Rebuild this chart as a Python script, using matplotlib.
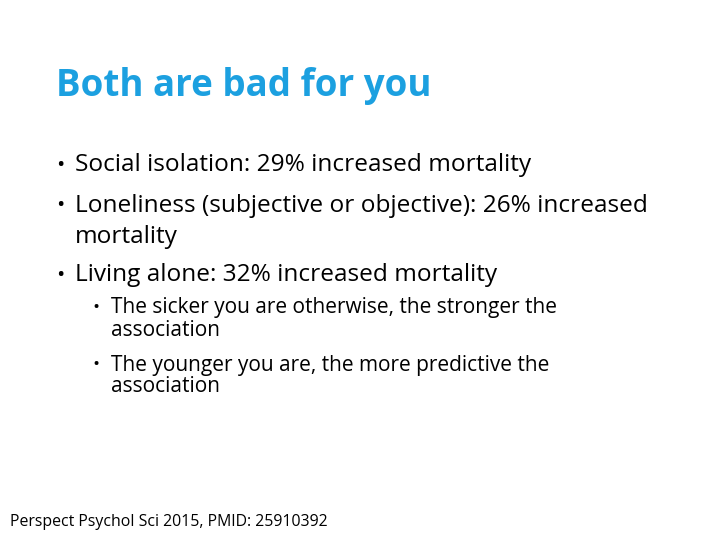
import matplotlib
matplotlib.use("Agg")
import matplotlib.pyplot as plt

title = "Both are bad for you"
# (level, lines, y of first line in px)
bullets = [
    (1, ["Social isolation: 29% increased mortality"], 165),
    (1, ["Loneliness (subjective or objective): 26% increased", "mortality"], 206),
    (1, ["Living alone: 32% increased mortality"], 275),
    (2, ["The sicker you are otherwise, the stronger the", "association"], 308),
    (2, ["The younger you are, the more predictive the", "association"], 365),
]
footer = "Perspect Psychol Sci 2015, PMID: 25910392"

W, H = 720, 540
fig = plt.figure(figsize=(7.2, 5.4), dpi=100)
fig.patch.set_facecolor("white")
font = "Open Sans"

def put(x, y, s, **kw):
    fig.text(x / W, 1 - y / H, s, va="center", ha="left", family=font, **kw)

put(56, 86, title, fontsize=26.5, fontweight="bold", color="#1ca0e0")

for level, lines, y0 in bullets:
    if level == 1:
        bx, tx, fs, step = 56, 75, 17.6, 31
    else:
        bx, tx, fs, step = 92, 111, 15, 22
    put(bx, y0, "•", fontsize=fs * 0.9, color="black")
    for i, line in enumerate(lines):
        put(tx, y0 + i * step, line, fontsize=fs, color="black")

put(10, 522, footer, fontsize=11.4, color="black")

fig.savefig("out.png", dpi=100)
